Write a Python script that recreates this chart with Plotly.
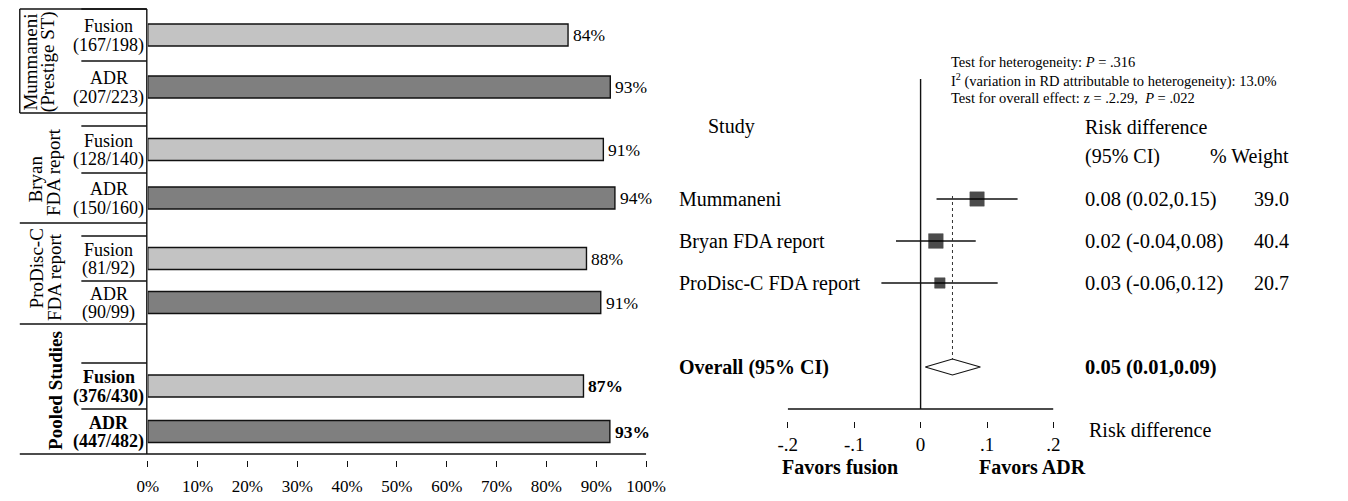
import math
import plotly.graph_objects as go

# ---------------- data: left panel (fusion vs ADR success) ----------------
group_lines = [["Mummaneni", "(Prestige ST)"], ["Bryan", "FDA report"],
               ["ProDisc-C", "FDA report"], ["Pooled Studies"]]
arms = ["Fusion", "ADR"]
fusion_n = [167, 128, 81, 376]
fusion_N = [198, 140, 92, 430]
adr_n = [207, 150, 90, 447]
adr_N = [223, 160, 99, 482]
fusion_pct_label = [84, 91, 88, 87]
adr_pct_label = [93, 94, 91, 93]
pct_ticks = [0, 10, 20, 30, 40, 50, 60, 70, 80, 90, 100]

# ---------------- data: right panel (forest plot) ----------------
studies = ["Mummaneni", "Bryan FDA report", "ProDisc-C FDA report"]
rd = [0.085, 0.023, 0.029]
rd_lo = [0.024, -0.037, -0.059]
rd_hi = [0.146, 0.083, 0.116]
rd_text = ["0.08 (0.02,0.15)", "0.02 (-0.04,0.08)", "0.03 (-0.06,0.12)"]
weights = [39.0, 40.4, 20.7]
overall_label = "Overall (95% CI)"
overall_rd = 0.048
overall_lo = 0.007
overall_hi = 0.090
overall_text = "0.05 (0.01,0.09)"
rd_ticks = [-0.2, -0.1, 0, 0.1, 0.2]
rd_ticktext = ["-.2", "-.1", "0", ".1", ".2"]

# ---------------- layout constants (pixels) ----------------
W, H = 1348, 501
SERIF = "Liberation Serif, Times New Roman, serif"
INK = "#111111"


def px(x):
    return x / W


# left table grid: (top of fusion cell, fusion/ADR divider, bottom of ADR cell)
cells = [(9, 61, 113), (126, 173, 223), (236, 281, 324), (363, 409, 454)]
group_edges = [9, 113, 223, 324]
group_line_pos = [[(19, 62), (38, 62)], [(25, 179), (43, 172)],
                  [(26, 268), (44, 277)], [(45, 390)]]
LABEL_X = 100
AXIS_LEFT_Y = 454

fus_y = [(a + b) / 2 for a, b, c in cells]
adr_y = [(b + c) / 2 for a, b, c in cells]
fus_val = [100 * n / N for n, N in zip(fusion_n, fusion_N)]
adr_val = [100 * n / N for n, N in zip(adr_n, adr_N)]

# forest rows
ROW0, ROW_STEP = 199, 42
row_y = [ROW0 + ROW_STEP * i for i in range(len(studies))]
overall_y = ROW0 + ROW_STEP * 4
DIAMOND_H = 8

fig = go.Figure()

# ---- bars ----
fig.add_trace(go.Bar(x=fus_val, y=fus_y, orientation="h", width=22,
                     marker=dict(color="#c3c3c3", line=dict(color=INK, width=1.4)),
                     xaxis="x", yaxis="y", showlegend=False, hoverinfo="skip"))
fig.add_trace(go.Bar(x=adr_val, y=adr_y, orientation="h", width=22,
                     marker=dict(color="#7f7f7f", line=dict(color=INK, width=1.4)),
                     xaxis="x", yaxis="y", showlegend=False, hoverinfo="skip"))

# ---- forest plot ----
fig.add_trace(go.Scatter(
    x=rd, y=row_y, mode="markers", xaxis="x2", yaxis="y", showlegend=False,
    hoverinfo="skip",
    marker=dict(symbol="square", color="black", line=dict(color="black", width=0.5),
                size=[2.3 * math.sqrt(w) for w in weights]),
    error_x=dict(type="data", symmetric=False,
                 array=[h - r for h, r in zip(rd_hi, rd)],
                 arrayminus=[r - l for r, l in zip(rd, rd_lo)],
                 width=0, thickness=1.3, color=INK)))
fig.add_trace(go.Scatter(
    x=[overall_rd, overall_rd], y=[row_y[0] - 3, overall_y - DIAMOND_H],
    mode="lines", line=dict(color="#333", width=1, dash="dot"),
    xaxis="x2", yaxis="y", showlegend=False, hoverinfo="skip"))
fig.add_trace(go.Scatter(
    x=[overall_lo, overall_rd, overall_hi, overall_rd, overall_lo],
    y=[overall_y, overall_y - DIAMOND_H, overall_y, overall_y + DIAMOND_H, overall_y],
    mode="lines", fill="toself", fillcolor="white",
    line=dict(color=INK, width=1.2),
    xaxis="x2", yaxis="y", showlegend=False, hoverinfo="skip"))

shapes = []


def hline(x0, x1, y, xref="paper", w=1.4):
    shapes.append(dict(type="line", xref=xref, yref="y", x0=x0, x1=x1, y0=y, y1=y,
                       line=dict(color=INK, width=w)))


def vline(x, y0, y1, xref="paper", w=1.4):
    shapes.append(dict(type="line", xref=xref, yref="y", x0=x, x1=x, y0=y0, y1=y1,
                       line=dict(color=INK, width=w)))


# left table lines
for e in group_edges:
    hline(px(9), px(139), e)
for a, b, c in cells:
    hline(px(72), px(139), a)
    hline(px(72), px(139), b)
hline(px(9), px(650), AXIS_LEFT_Y)
vline(px(139), 9, AXIS_LEFT_Y)
vline(px(9), 9, 113)

# forest axis lines
vline(0, 79, 409, xref="x2")
hline(-0.2, 0.2, 409, xref="x2")

ann = []


def text(x, y, s, size=16, xanchor="center", bold=False, angle=0, xref="paper", yref="y",
         xshift=0):
    if bold:
        s = "<b>" + s + "</b>"
    ann.append(dict(x=x, y=y, xref=xref, yref=yref, text=s, showarrow=False,
                    xanchor=xanchor, yanchor="middle", textangle=angle, xshift=xshift,
                    font=dict(family=SERIF, size=size, color="black")))


# left labels
for g, lines in enumerate(group_lines):
    pooled = g == len(group_lines) - 1
    for line, (lx, ly) in zip(lines, group_line_pos[g]):
        text(px(lx), ly, line, size=19, angle=-90, bold=pooled)
    a, b, c = cells[g]
    for arm, (top, bot), n, N in zip(arms, [(a, b), (b, c)],
                                     [fusion_n[g], adr_n[g]], [fusion_N[g], adr_N[g]]):
        mid = (top + bot) / 2
        text(px(LABEL_X), mid - 9, arm, size=18, bold=pooled)
        text(px(LABEL_X), mid + 10, f"({n}/{N})", size=18, bold=pooled)
    text(fus_val[g], fus_y[g], f"{fusion_pct_label[g]}%", size=17.5, xanchor="left",
         bold=pooled, xref="x", xshift=3)
    text(adr_val[g], adr_y[g], f"{adr_pct_label[g]}%", size=17.5, xanchor="left",
         bold=pooled, xref="x", xshift=3)

# right labels
text(px(960), 62, "Test for heterogeneity: <i>P</i> = .316", size=14.5, xanchor="left")
text(px(960), 80, "I<sup>2</sup> (variation in RD attributable to heterogeneity): 13.0%",
     size=14.5, xanchor="left")
text(px(960), 98, "Test for overall effect: z = .2.29,\u00a0 <i>P</i> = .022", size=14.5,
     xanchor="left")
text(px(711), 126, "Study", size=20, xanchor="left")
text(px(1097), 127, "Risk difference", size=20, xanchor="left")
text(px(1097), 156, "(95% CI)", size=20, xanchor="left")
text(px(1225), 156, "% Weight", size=20, xanchor="left")
for s, y, t, w in zip(studies, row_y, rd_text, weights):
    text(px(682), y, s, size=20, xanchor="left")
    text(px(1097), y, t, size=20.5, xanchor="left")
    text(px(1270), y, f"{w:.1f}", size=20, xanchor="left")
text(px(682), overall_y, overall_label, size=20, xanchor="left", bold=True)
text(px(1097), overall_y, overall_text, size=20.5, xanchor="left", bold=True)
text(px(1101), 430, "Risk difference", size=20, xanchor="left")
text(px(849), 467, "Favors fusion", size=20, bold=True)
text(px(1046), 467, "Favors ADR", size=20, bold=True)

fig.update_layout(
    width=W, height=H, margin=dict(l=0, r=0, t=0, b=0),
    paper_bgcolor="white", plot_bgcolor="rgba(0,0,0,0)",
    barmode="overlay", shapes=shapes, annotations=ann,
    xaxis=dict(domain=[px(140), px(650)], range=[0, 100], anchor="free",
               position=1 - 460 / H, showline=False, showgrid=False, zeroline=False,
               ticks="outside", ticklen=6, tickwidth=1, tickcolor=INK,
               tickvals=pct_ticks, ticktext=[f"{t}%" for t in pct_ticks],
               tickfont=dict(family=SERIF, size=17, color="black"),
               ticklabelstandoff=5, fixedrange=True),
    xaxis2=dict(domain=[px(795), px(1067)], range=[-0.2, 0.2], anchor="free",
                position=1 - 421 / H, showline=False, showgrid=False, zeroline=False,
                ticks="outside", ticklen=6, tickwidth=1, tickcolor=INK,
                tickvals=rd_ticks, ticktext=rd_ticktext,
                tickfont=dict(family=SERIF, size=19, color="black"), fixedrange=True),
    yaxis=dict(domain=[0, 1], range=[H, 0], visible=False, fixedrange=True),
)

fig.write_html("out.html", post_script="document.body.style.margin='0';",
               config={"displayModeBar": False})
